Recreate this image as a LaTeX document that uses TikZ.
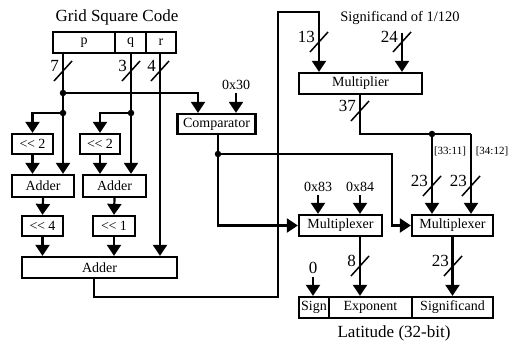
\documentclass[tikz,border=0pt]{standalone}
\usepackage{fontspec}
\setmainfont{Liberation Serif}
\usetikzlibrary{arrows.meta,calc}
\newcommand\boxfont{\fontsize{14}{14}\selectfont}
\newcommand\bigfont{\fontsize{17}{17}\selectfont}
\newcommand\smallfont{\fontsize{11}{11}\selectfont}
\tikzset{
  x=1pt, y=-1pt,
  blk/.style={draw, line width=2.2pt, inner sep=0pt, font=\boxfont, fill=white},
  wire/.style={line width=2.2pt},
  arr/.style={line width=2.2pt, -{Triangle[width=14pt,length=11pt]}},
  slash/.style={line width=1.5pt},
  wl/.style={font=\bigfont, inner sep=0pt, anchor=east},
  lbl/.style={font=\boxfont, inner sep=0pt},
  dot/.style={circle, fill=black, inner sep=0pt, minimum size=6.5pt},
}
\newcommand\buswd[4]{%
  \draw[slash] (#2,#3) ++(-9,10) -- ++(18,-20);
  \node[wl] (#1) at (#2-4,#3-5) {#4};}
\begin{document}
\begin{tikzpicture}
\useasboundingbox (0,0) rectangle (508,347);
% titles
\node[font=\bigfont, inner sep=0pt] (title) at (117,17) {Grid Square Code};
\node[font=\bigfont, inner sep=0pt] (lattitle) at (394,333) {Latitude (32-bit)};
\node[font=\fontsize{14.5}{14.5}\selectfont, inner sep=0pt] (sig120) at (400,18) {Significand of 1/120};
% grid square code
\node[blk, minimum width=62pt, minimum height=21pt] (p) at (84,42.5) {p};
\node[blk, minimum width=31pt, minimum height=21pt] (q) at (130.5,42.5) {q};
\node[blk, minimum width=30pt, minimum height=21pt] (r) at (161,42.5) {r};
% boxes
\node[blk, minimum width=41pt, minimum height=20pt] (sa) at (32.5,144) {<\kern-0.5pt< 2};
\node[blk, minimum width=40pt, minimum height=20pt] (sb) at (100,144) {<\kern-0.5pt< 2};
\node[blk, minimum width=62pt, minimum height=22pt] (adda) at (43,186) {Adder};
\node[blk, minimum width=63pt, minimum height=22pt] (addb) at (114.5,186) {Adder};
\node[blk, minimum width=41pt, minimum height=20pt] (sc) at (42.5,226) {<\kern-0.5pt< 4};
\node[blk, minimum width=42pt, minimum height=20pt] (sd) at (114,226) {<\kern-0.5pt< 1};
\node[blk, minimum width=155pt, minimum height=21pt] (addc) at (99.5,267.5) {Adder};
\node[blk, minimum width=78pt, minimum height=20pt] (cmp) at (216.5,124) {Comparator};
\node[blk, minimum width=123pt, minimum height=21pt] (mul) at (360.5,83.5) {Multiplier};
\node[blk, minimum width=83pt, minimum height=21pt] (mxa) at (340.5,225.5) {Multiplexer};
\node[blk, minimum width=81pt, minimum height=21pt] (mxb) at (452.5,225.5) {Multiplexer};
\node[blk, minimum width=30pt, minimum height=21pt] (sign) at (314,307.5) {Sign};
\node[blk, minimum width=83pt, minimum height=21pt] (expo) at (370.5,307.5) {Exponent};
\node[blk, minimum width=81pt, minimum height=21pt] (sigf) at (452.5,307.5) {Significand};
% constants
\node[lbl] (c30) at (236,85) {0x30};
\node[lbl] (c83) at (318,187) {0x83};
\node[lbl] (c84) at (360,187) {0x84};
\node[font=\bigfont, inner sep=0pt] (c0) at (313,268) {0};
\node[font=\smallfont, inner sep=0pt] (rga) at (450,151) {[33:11]};
\node[font=\smallfont, inner sep=0pt] (rgb) at (492,151) {[34:12]};
% coordinates
\coordinate (d1) at (63,93);
\coordinate (d2) at (63,113);
\coordinate (d3) at (131,113);
\coordinate (rx) at (160,0);
\coordinate (ca) at (198,93);
\coordinate (d4) at (218,154);
\coordinate (cb) at (392,154);
\coordinate (ao) at (94,297);
\coordinate (au) at (278,297);
\coordinate (at) at (278,12);
\coordinate (mt) at (319,12);
\coordinate (s24) at (402,33);
\coordinate (mo) at (360,134);
\coordinate (d5) at (432,134);
\coordinate (mr) at (471,134);
% wires
\draw[arr] (p.south -| d1) -- (adda.north -| d1);
\draw[arr] (q.south -| d3) -- (addb.north -| d3);
\draw[arr] (r.south -| rx) -- (addc.north -| rx);
\draw[arr] (d1) -- (ca) -- (ca |- cmp.north);
\draw[arr] (c30.south) ++(0,3) -- (cmp.north -| c30);
\draw[arr] (d2) -| (sa.north);
\draw[arr] (d3) -| (sb.north);
\draw[arr] (sa.south) -- (adda.north -| sa.south);
\draw[arr] (sb.south) -- (addb.north -| sb.south);
\draw[arr] (adda.south) -- (sc.north);
\draw[arr] (addb.south) -- (sd.north);
\draw[arr] (sc.south) -- (addc.north -| sc.south);
\draw[arr] (sd.south) -- (addc.north -| sd.south);
\draw[arr] (addc.south -| ao) -- (ao) -- (au) -- (at) -- (mt) -- (mul.north -| mt);
\draw[arr] (s24) -- (mul.north -| s24);
\draw[wire] (mul.south -| mo) -- (mo) -- (mr);
\draw[arr] (mr) -- (mxb.north -| mr);
\draw[arr] (d5) -- (mxb.north -| d5);
\draw[arr] (cmp.south -| d4) |- (mxa.west);
\draw[arr] (d4) -- (cb) |- (mxb.west);
\draw[arr] (c83.south) ++(0,3) -- (mxa.north -| c83);
\draw[arr] (c84.south) ++(0,3) -- (mxa.north -| c84);
\draw[arr] (mxa.south -| c84) -- (expo.north -| c84);
\draw[arr] (mxb.south) -- (sigf.north);
\draw[arr] (c0.south) ++(0,3) -- (sign.north -| c0);
% dots
\node[dot] (k1) at (d1) {};
\node[dot] (k2) at (d2) {};
\node[dot] (k3) at (d3) {};
\node[dot] (k4) at (d4) {};
\node[dot] (k5) at (d5) {};
% bus widths
\buswd{w7}{63}{71}{7}
\buswd{w3}{131}{71}{3}
\buswd{w4}{160}{71}{4}
\buswd{w13}{319}{42}{13}
\buswd{w24}{402}{42}{24}
\buswd{w37}{360}{111}{37}
\buswd{w23a}{432}{186}{23}
\buswd{w23b}{471}{186}{23}
\buswd{w8}{360}{266}{8}
\buswd{w23c}{453}{266}{23}
\end{tikzpicture}
\end{document}
